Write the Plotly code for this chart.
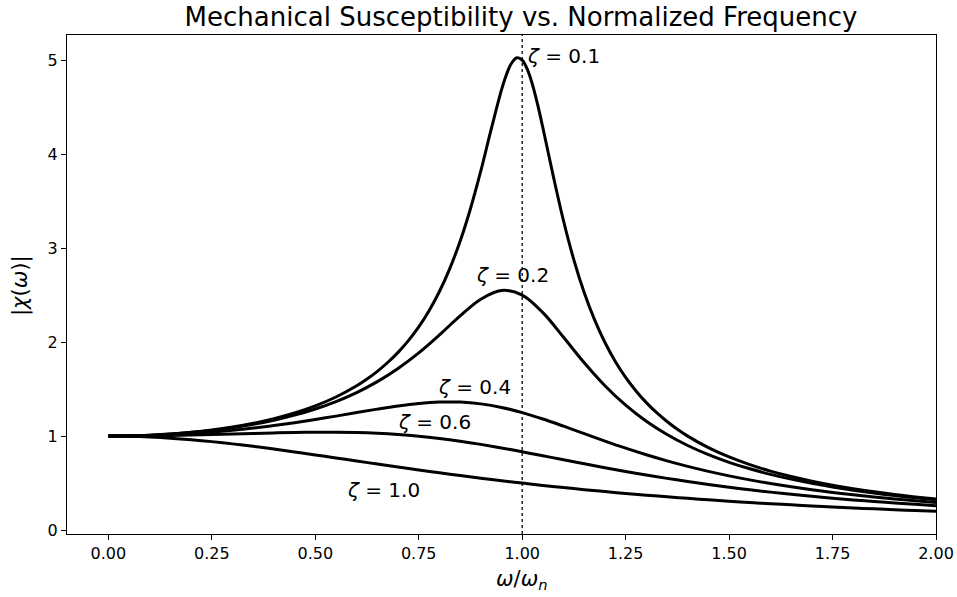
import plotly.graph_objects as go

# Normalized frequency samples (omega / omega_n)
ratio = [0.0, 0.05, 0.1, 0.15, 0.2, 0.25, 0.3, 0.35, 0.4, 0.45, 0.5, 0.55, 0.6, 0.65,
         0.7, 0.75, 0.8, 0.85, 0.9, 0.95, 1.0, 1.05, 1.1, 1.15, 1.2, 1.25, 1.3, 1.35,
         1.4, 1.45, 1.5, 1.55, 1.6, 1.65, 1.7, 1.75, 1.8, 1.85, 1.9, 1.95, 2.0]
# finer sampling used for the sharp zeta = 0.1 resonance
ratio_z01 = [0.0, 0.05, 0.1, 0.15, 0.2, 0.25, 0.3, 0.35, 0.4, 0.45, 0.5, 0.55, 0.6,
             0.625, 0.65, 0.675, 0.7, 0.725, 0.75, 0.775, 0.8, 0.825, 0.85, 0.875, 0.9,
             0.925, 0.95, 0.9625, 0.975, 0.9875, 1.0, 1.0125, 1.025, 1.0375, 1.05,
             1.075, 1.1, 1.125, 1.15, 1.175, 1.2, 1.225, 1.25, 1.275, 1.3, 1.325, 1.35,
             1.375, 1.4, 1.45, 1.5, 1.55, 1.6, 1.65, 1.7, 1.75, 1.8, 1.85, 1.9, 1.95, 2.0]

# |chi(omega)| for each damping ratio
chi_z01 = [1.0, 1.0025, 1.0099, 1.0225, 1.0408, 1.0652, 1.0965, 1.1360, 1.1851, 1.2460,
           1.3216, 1.4162, 1.5357, 1.6076, 1.6893, 1.7830, 1.8908, 2.0160, 2.1621, 2.3343,
           2.5384, 2.7818, 3.0729, 3.4188, 3.8208, 4.2614, 4.6826, 4.8523, 4.9713, 5.0237,
           5.0, 4.9006, 4.7357, 4.5224, 4.2794, 3.7677, 3.2880, 2.8726, 2.5245, 2.2355,
           1.9952, 1.7942, 1.6246, 1.4802, 1.3562, 1.2488, 1.1552, 1.0728, 1.0, 0.8772,
           0.7779, 0.6962, 0.6279, 0.5702, 0.5207, 0.4780, 0.4408, 0.4081, 0.3791, 0.3534,
           0.3304]
chi_z02 = [1.0, 1.0023, 1.0093, 1.0211, 1.0381, 1.0607, 1.0895, 1.1254, 1.1695, 1.2232,
           1.2883, 1.3673, 1.4630, 1.5790, 1.7188, 1.8851, 2.0761, 2.2786, 2.4566, 2.5490,
           2.5, 2.3131, 2.0511, 1.7800, 1.5357, 1.3287, 1.1574, 1.0163, 0.8998, 0.8027,
           0.7212, 0.6521, 0.5931, 0.5421, 0.4979, 0.4591, 0.4250, 0.3948, 0.3679, 0.3438,
           0.3221]
chi_z04 = [1.0, 1.0017, 1.0068, 1.0154, 1.0275, 1.0432, 1.0626, 1.0857, 1.1125, 1.1429,
           1.1765, 1.2126, 1.25, 1.2868, 1.3203, 1.3467, 1.3618, 1.3616, 1.3429, 1.3051,
           1.25, 1.1817, 1.1053, 1.0258, 0.9469, 0.8716, 0.8012, 0.7366, 0.6779, 0.6249,
           0.5771, 0.5342, 0.4956, 0.4608, 0.4295, 0.4012, 0.3755, 0.3523, 0.3311, 0.3118,
           0.2941]
chi_z06 = [1.0, 1.0007, 1.0028, 1.0061, 1.0106, 1.0159, 1.0218, 1.0279, 1.0336, 1.0383,
           1.0412, 1.0414, 1.0381, 1.0304, 1.0176, 0.9993, 0.9753, 0.9460, 0.9119, 0.8740,
           0.8333, 0.7910, 0.7482, 0.7056, 0.6641, 0.6242, 0.5862, 0.5504, 0.5168, 0.4855,
           0.4563, 0.4293, 0.4042, 0.3810, 0.3596, 0.3397, 0.3214, 0.3043, 0.2885, 0.2739,
           0.2603]
chi_z10 = [1.0, 0.9975, 0.9901, 0.9780, 0.9615, 0.9412, 0.9174, 0.8909, 0.8621, 0.8316,
           0.8, 0.7678, 0.7353, 0.7030, 0.6711, 0.64, 0.6098, 0.5806, 0.5525, 0.5256,
           0.5, 0.4756, 0.4525, 0.4306, 0.4098, 0.3902, 0.3717, 0.3543, 0.3378, 0.3223,
           0.3077, 0.2939, 0.2809, 0.2686, 0.2571, 0.2462, 0.2358, 0.2261, 0.2169, 0.2082,
           0.2]

series_x = [ratio_z01, ratio, ratio, ratio, ratio]
series_y = [chi_z01, chi_z02, chi_z04, chi_z06, chi_z10]
labels = ["0.1", "0.2", "0.4", "0.6", "1.0"]
label_x = [1.101, 0.976, 0.884, 0.787, 0.666]
label_y = [5.04, 2.71, 1.52, 1.15, 0.43]

x_ticks = [0.0, 0.25, 0.5, 0.75, 1.0, 1.25, 1.5, 1.75, 2.0]
y_ticks = [0, 1, 2, 3, 4, 5]

FONT = "DejaVu Sans"

fig = go.Figure()
for xs, ys in zip(series_x, series_y):
    fig.add_trace(go.Scatter(
        x=xs, y=ys, mode="lines",
        line=dict(color="black", width=3, shape="spline", smoothing=1.0),
        showlegend=False, hoverinfo="skip"))

for lab, lx, ly in zip(labels, label_x, label_y):
    fig.add_annotation(x=lx, y=ly, xref="x", yref="y",
                       text="<i>ζ</i> = " + lab, showarrow=False,
                       xanchor="center", yanchor="middle",
                       font=dict(family=FONT, size=20, color="black"))

# resonance marker
fig.add_shape(type="line", x0=1.0, x1=1.0, xref="x", y0=0, y1=1, yref="paper",
              line=dict(color="black", width=1.3, dash="dot"))

# axis titles (placed as annotations to match reference positions)
fig.add_annotation(x=(522 - 67) / 869, y=-46 / 499, xref="paper", yref="paper",
                   text="<i>ω</i>/<i>ω</i><sub><i>n</i></sub>", showarrow=False,
                   xanchor="center", yanchor="middle",
                   font=dict(family=FONT, size=21, color="black"))
fig.add_annotation(x=-47 / 869, y=(534 - 286) / 499, xref="paper", yref="paper",
                   text="|<i>χ</i>(<i>ω</i>)|", showarrow=False, textangle=-90,
                   xanchor="center", yanchor="middle",
                   font=dict(family=FONT, size=21, color="black"))

fig.update_layout(
    width=957, height=597,
    margin=dict(l=67, r=21, t=35, b=63, autoexpand=False),
    paper_bgcolor="white", plot_bgcolor="white",
    font=dict(family=FONT, color="black"),
    title=dict(text="Mechanical Susceptibility vs. Normalized Frequency",
               x=521 / 957, xref="container", xanchor="center",
               y=1 - 17 / 597, yref="container", yanchor="middle",
               font=dict(family=FONT, size=26, color="black")),
    xaxis=dict(range=[-0.1, 2.0], tickvals=x_ticks,
               ticktext=[f"{v:.2f}" for v in x_ticks], automargin=False,
               ticks="outside", ticklen=5, tickwidth=1.2, tickcolor="black",
               showgrid=False, zeroline=False,
               showline=True, linecolor="black", linewidth=1.2, mirror=True,
               tickfont=dict(family=FONT, size=16, color="black")),
    yaxis=dict(range=[-0.0413, 5.2665], tickvals=y_ticks, automargin=False,
               ticks="outside", ticklen=5, tickwidth=1.2, tickcolor="black",
               showgrid=False, zeroline=False,
               showline=True, linecolor="black", linewidth=1.2, mirror=True,
               tickfont=dict(family=FONT, size=16, color="black")),
)

fig.write_html("out.html")
